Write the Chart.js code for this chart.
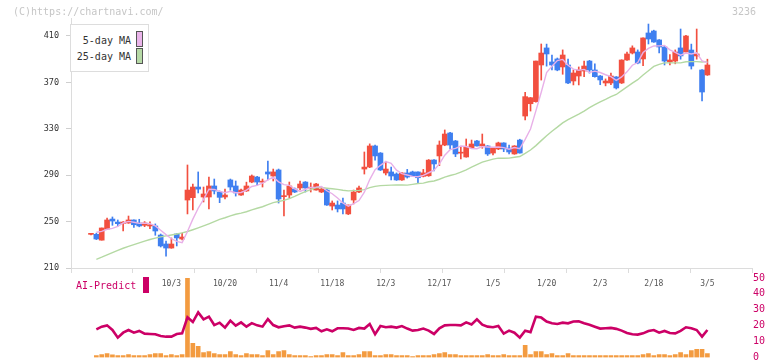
<!DOCTYPE html>
<html><head><meta charset="utf-8">
<script src="https://cdn.jsdelivr.net/npm/chart.js@4.4.1/dist/chart.umd.min.js"></script>
<style>
html,body{margin:0;padding:0;background:#fff;width:772px;height:361px;overflow:hidden;position:relative;font-family:'DejaVu Sans Mono',monospace;}
canvas{position:absolute;left:0;}
#cA{top:0;} #cB{top:270px;}
.txt{position:absolute;white-space:nowrap;line-height:12px;}
</style></head><body>
<canvas id="cB" width="772" height="100"></canvas>
<canvas id="cA" width="772" height="300"></canvas>
<div class="txt" style="left:13px;top:6px;font-size:10px;color:#c6c6c6">(C)https://chartnavi.com/</div>
<div class="txt" style="right:16px;top:6px;font-size:10px;color:#c6c6c6">3236</div>
<div style="position:absolute;left:70px;top:24px;width:79px;height:48px;box-sizing:border-box;border:1px solid #ddd;background:#fff;">
  <div class="txt" style="right:17px;top:10px;font-size:10px;color:#333">5-day MA</div>
  <span style="position:absolute;left:65px;top:6px;width:7px;height:16px;box-sizing:border-box;border:1px solid #555;background:#eab4ea"></span>
  <div class="txt" style="right:17px;top:26px;font-size:10px;color:#333">25-day MA</div>
  <span style="position:absolute;left:65px;top:23px;width:7px;height:16px;box-sizing:border-box;border:1px solid #555;background:#b6d9a6"></span>
</div>
<div class="txt" style="left:76px;top:280px;font-size:10px;color:#cc0066">AI-Predict</div>
<span style="position:absolute;left:143px;top:277px;width:6px;height:16px;background:#cc0066"></span>
<script>
const dates = ['9/10','9/11','9/12','9/16','9/17','9/18','9/19','9/22','9/24','9/25','9/26','9/29','9/30','10/1','10/2','10/3','10/6','10/7','10/8','10/9','10/10','10/14','10/15','10/16','10/17','10/20','10/21','10/22','10/23','10/24','10/27','10/28','10/29','10/30','10/31','11/4','11/5','11/6','11/7','11/10','11/11','11/12','11/13','11/14','11/17','11/18','11/19','11/20','11/21','11/25','11/26','11/27','11/28','12/1','12/2','12/3','12/4','12/5','12/8','12/9','12/10','12/11','12/12','12/15','12/16','12/17','12/18','12/19','12/22','12/23','12/24','12/25','12/26','12/29','12/30','1/5','1/6','1/7','1/8','1/9','1/13','1/14','1/15','1/16','1/19','1/20','1/21','1/22','1/23','1/26','1/27','1/28','1/29','1/30','2/2','2/3','2/4','2/5','2/6','2/9','2/10','2/12','2/13','2/16','2/17','2/18','2/19','2/20','2/24','2/25','2/26','2/27','3/2','3/3','3/4','3/5'];
const opens = [239,239,234,243.6,252.2,249.6,248.5,248.8,251.4,248.8,246.8,246.2,246.2,238.4,230.7,227.2,239.3,235,268.6,270.6,279.8,271.2,271.2,280.7,275.5,271.2,285.9,280.7,272.9,276.4,284.1,288.4,284,292.8,289.3,294.5,271.5,272.9,278.1,279,284.1,278.8,277.2,275.5,277.2,263.4,264.3,266,256.6,268.6,275.5,295.3,297,315.2,309.1,291.9,292.8,291,285.9,291.9,292.8,292.8,289,289.5,303.1,306.6,316,326.4,319.5,309,305.7,313.7,319.5,315.2,315.2,309.1,312.6,317.8,313.4,308.3,320.3,341,351.6,353.4,385,399.7,387.6,390.2,383.3,385,371.2,375.5,379.8,388.4,380.7,375.5,369.5,369.5,374.7,369.5,389.3,395.3,396.2,390.2,412.6,414.3,406.6,400.5,387.6,388.4,399.7,396.2,397.9,392.8,380.7,376.4];
const highs = [239.5,240,244.5,253,254,251.4,250,254.8,251.5,252,250,249.9,248,239.3,233.3,235.9,239.5,240.2,298.8,282.4,292.8,279.8,288.4,286.7,276.4,278.1,286.7,285,278,284,290.2,289,286.7,302.2,295.3,295.3,277.2,284.1,279,285,284.5,283.3,283,279,278,267.8,267.8,270.3,264.3,277.2,280.7,310,317,316,309.5,302,297,292,292.2,295,293.5,293,295,303.5,303.5,319.5,329,327,320,314.3,321.2,320.3,320,325.5,315.5,313.8,318.5,318,316,315.5,321,361.4,357,388.4,403.1,403,393.6,391,398,390,380.7,383.3,388.4,389,386,376,373,378,375,389.5,396.2,401.5,398,408.5,420.3,415,407,401,394,398,416,410.5,403,416,381,390];
const lows = [238.5,234.5,234,243,246.8,246.2,242,248.5,245,245.5,245.6,243.9,238.2,228.1,220.3,227,229,234.1,256.6,260,274.7,266.9,260.9,273.8,266.3,269.5,277,272,272.5,276,283.5,281.6,279.8,285.9,285,266,254.8,270.3,275,277.2,275.5,275.5,277,275,264,260,258.3,256.6,256,265.2,275,291,296.5,303,294,290.2,285.9,285.5,285.5,287.5,289,283.5,288.5,289,293.6,298.2,315.4,312.6,306,304,305.5,313.5,315,313.2,307,307.4,312,310.3,308.3,308,309,337.6,345.3,353,372,384,380.7,380,377,369,367.8,367.8,374.9,378,374.5,368,367,368,364.3,369,389,394.5,386,384.4,403.1,404.5,395.3,385,385,386,390,396,381.5,390,354,376];
const closes = [239.2,235,244.5,251.4,250.5,248.2,249.6,251.4,247.3,246.2,248.8,247.3,241.9,229,227.2,230.7,235.9,236.7,277.2,279.8,278,273.8,280.7,276.4,270.9,272.9,279.8,274.7,277.2,280.7,289.3,284.1,284.3,291,292.8,269.5,272,280.7,275.5,282.4,279,279.2,282.4,278.1,264.3,266,260.9,260.9,264.3,275.5,279,297,315.2,306.6,294.5,295.3,289.3,285.9,291.9,288.4,289.3,287.8,292,303,299.7,316,325.5,316,308.3,309.5,314.3,316.9,315.2,316.9,308.3,313.4,317.8,312.6,310,315.2,309.1,357.7,356.8,388.4,395.3,394.5,385,380.7,393.6,369.5,378.1,380.7,384.1,380.7,374.9,372.1,371.2,375.5,365.2,389.3,394.5,399.7,386.7,408.3,407.4,404.8,400.5,388.4,389.3,396.2,392.8,410,384.1,394.5,361.7,385];
const ma5 = [null,240.8,241.6,243.4,244.1,245.9,248.8,250.2,249.4,248.5,248.7,248.2,246.3,242.6,238.8,235.2,232.9,231.9,241.5,252.1,261.5,269.1,277.9,277.7,276.0,274.9,276.1,274.9,275.1,277.1,280.3,281.2,283.1,285.9,288.3,284.3,281.9,281.2,278.1,276.0,277.9,279.4,279.7,280.2,276.6,274.0,270.3,266.0,263.3,265.5,268.1,275.3,286.2,294.7,298.5,301.7,300.2,294.3,291.4,290.2,289.0,288.7,289.9,292.1,294.4,299.7,307.2,312.0,313.1,315.1,314.7,313.0,312.8,314.6,314.3,314.1,314.3,313.8,312.4,313.8,312.9,320.9,329.8,345.4,361.5,378.5,384.0,388.8,389.8,384.7,381.4,380.5,381.2,378.6,379.7,378.5,376.6,374.9,371.8,374.7,379.1,384.8,387.1,395.7,399.3,401.4,401.5,401.9,398.1,395.8,393.4,395.3,394.5,395.5,388.6,387.1];
const ma25 = [null,217.5,219.3,221.3,223.3,225.2,227.0,228.6,230.2,231.7,233.2,234.6,235.8,236.8,237.7,238.5,239.3,240.3,241.5,243.0,244.6,246.3,248.1,250.0,251.9,253.3,255.0,256.3,257.3,258.5,260.1,261.5,262.8,264.6,266.4,267.3,268.3,269.8,271.7,273.9,275.8,277.5,279.4,279.4,278.8,278.3,277.8,277.0,276.5,276.7,276.9,277.6,279.3,280.4,281.0,281.2,281.4,281.5,281.5,281.4,282.1,282.8,283.2,284.3,285.0,286.5,288.4,289.7,290.9,292.7,294.6,296.9,299.1,301.2,302.5,303.8,304.7,304.6,304.7,305.5,306.1,308.8,311.7,315.5,319.8,324.0,327.9,331.4,335.1,337.9,340.3,342.6,345.3,348.2,350.8,353.1,355.3,357.7,359.6,362.9,366.1,369.4,372.3,376.3,380.0,383.8,385.5,386.8,386.8,386.8,386.8,387.8,387.9,387.9,387.6,387.9];
const aiPredict = [null,17.7,19.4,20.2,17.3,12.5,15.6,17.3,15.6,16.7,15.0,14.8,14.6,13.5,13.1,13.1,14.8,15.2,25.3,22.3,28.4,24.0,25.7,20.4,21.9,18.8,23.2,20.0,22.1,19.4,21.6,20.2,19.4,24.2,20.4,19.0,19.6,20.2,18.8,19.4,18.8,18.0,18.6,16.5,17.7,16.5,18.4,18.4,18.2,17.3,18.6,18.2,21.1,14.6,19.8,19.0,19.4,18.8,19.8,18.2,16.9,17.3,18.2,16.9,14.8,18.4,20.2,20.4,20.4,20.2,22.1,20.8,24.0,20.6,19.4,19.0,19.8,15.0,16.9,15.6,12.5,16.9,16.0,25.7,25.1,22.6,21.5,21.1,21.9,21.5,22.6,22.8,21.5,20.6,19.4,18.2,18.4,18.6,18.0,16.9,15.4,14.6,14.4,15.2,16.7,17.3,15.6,16.7,15.4,15.2,16.7,19.0,18.4,17.3,13.1,17.3];
const volume = [null,40,60,80,54,40,40,60,40,40,40,60,80,80,40,60,40,60,1580,280,220,100,120,80,60,60,120,60,40,80,60,60,40,140,60,120,140,60,40,40,40,20,40,40,60,60,40,100,40,40,60,120,120,40,40,60,60,40,40,40,20,40,40,40,60,80,100,60,60,40,40,40,40,40,60,40,40,60,40,40,40,240,60,120,120,60,80,40,40,80,40,40,40,40,40,40,40,40,40,40,40,40,40,60,80,40,60,60,40,60,100,60,140,160,160,80];
const yTicks = [210,250,290,330,370,410];
const labelDates = ['10/3','10/20','11/4','11/18','12/3','12/17','1/5','1/20','2/3','2/18','3/5'];
const aiTicks = [0,10,20,30,40,50];

const UP = '#f24f3f', DOWN = '#3f7ff0';
const idx = dates.map((d, i) => i);
const candleColor = idx.map(i => closes[i] >= opens[i] ? UP : DOWN);
const XMIN = -3.73, XMAX = 123.32;
const MONO = 'DejaVu Sans Mono';

new Chart(document.getElementById('cA'), {
  type: 'bar',
  data: { datasets: [
    { type: 'line', label: '5-day MA', data: idx.map(i => ({ x: i, y: ma5[i] })), borderColor: '#e8b0e8', borderWidth: 1.4, pointRadius: 0, order: 0 },
    { type: 'line', label: '25-day MA', data: idx.map(i => ({ x: i, y: ma25[i] })), borderColor: '#b4d9a3', borderWidth: 1.4, pointRadius: 0, order: 0 },
    { type: 'bar', label: 'body', data: idx.map(i => ({ x: i, y: [opens[i], closes[i]] })), backgroundColor: candleColor, barThickness: 5, grouped: false, minBarLength: 1, order: 1 },
    { type: 'bar', label: 'wick', data: idx.map(i => ({ x: i, y: [lows[i], highs[i]] })), backgroundColor: candleColor, barThickness: 1, grouped: false, order: 2 }
  ] },
  options: {
    responsive: false, animation: false, events: [],
    layout: { padding: { top: 18, right: 20, bottom: 11, left: 0 } },
    plugins: { legend: { display: false }, tooltip: { enabled: false } },
    scales: {
      x: { type: 'linear', min: XMIN, max: XMAX, offset: false, weight: 0,
        grid: { offset: false, drawOnChartArea: false, drawTicks: true, tickLength: 5, color: '#dcdcdc' },
        border: { display: true, color: '#dcdcdc' },
        ticks: { display: false },
        afterBuildTicks: s => { s.ticks = Array.from({ length: 12 }, (_, k) => ({ value: XMIN + k * (XMAX - XMIN) / 11 })); },
        afterFit: s => { s.height = 7; } },
      xd: { type: 'linear', position: 'bottom', min: XMIN, max: XMAX, offset: false, weight: 1,
        grid: { display: false, drawTicks: false }, border: { display: false },
        ticks: { font: { family: MONO, size: 8 }, color: '#555', padding: 4, autoSkip: false, maxRotation: 0, callback: v => dates[v] },
        afterBuildTicks: s => { s.ticks = labelDates.map(d => ({ value: dates.indexOf(d) })); },
        afterFit: s => { s.height = 14; } },
      y: { min: 210, max: 425.5,
        grid: { drawOnChartArea: false, drawTicks: true, tickLength: 5, color: '#cfcfcf' },
        border: { display: true, color: '#dcdcdc' },
        ticks: { font: { family: MONO, size: 8.5 }, color: '#333', padding: 7 },
        afterBuildTicks: s => { s.ticks = yTicks.map(v => ({ value: v })); },
        afterFit: s => { s.width = 71; } }
    }
  }
});

new Chart(document.getElementById('cB'), {
  type: 'bar',
  data: { datasets: [
    { type: 'line', label: 'AI-Predict', data: idx.map(i => ({ x: i, y: aiPredict[i] })), borderColor: '#cc0066', borderWidth: 2.6, pointRadius: 0, yAxisID: 'y', order: 0 },
    { type: 'bar', label: 'Volume', data: idx.map(i => ({ x: i, y: volume[i] })), backgroundColor: '#f39b40', barThickness: 4, grouped: false, yAxisID: 'yv', order: 1 }
  ] },
  options: {
    responsive: false, animation: false, events: [],
    layout: { padding: { top: 8, right: 0, bottom: 12.5, left: 71 } },
    plugins: { legend: { display: false }, tooltip: { enabled: false } },
    scales: {
      x: { type: 'linear', min: XMIN, max: XMAX, display: false, offset: false },
      y: { position: 'right', min: 0, max: 50,
        grid: { display: false, drawTicks: false }, border: { display: false },
        ticks: { color: '#cc0066', font: { family: MONO, size: 10 }, padding: 1 },
        afterBuildTicks: s => { s.ticks = aiTicks.map(v => ({ value: v })); },
        afterFit: s => { s.width = 20; } },
      yv: { display: false, min: 0, max: 1580 }
    }
  }
});
</script>
</body></html>
